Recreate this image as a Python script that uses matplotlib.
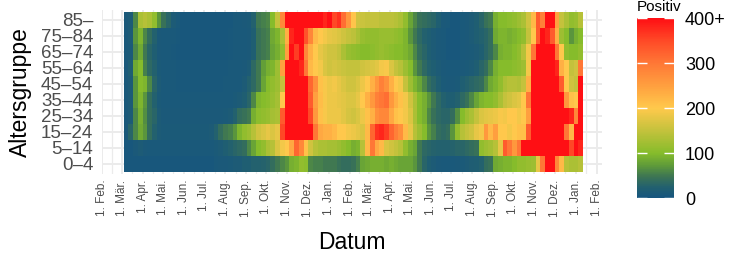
import numpy as np
import pandas as pd
import matplotlib
matplotlib.use("Agg")
import matplotlib.pyplot as plt
import matplotlib.dates as mdates
from matplotlib.colors import LinearSegmentedColormap

plt.rcParams['font.family'] = ['Liberation Sans', 'DejaVu Sans']

# ---------------- data ----------------
age_groups = ['0–4', '5–14', '15–24', '25–34', '35–44', '45–54',
              '55–64', '65–74', '75–84', '85–']
first_week = '2020-03-04'
n_weeks = 97
month_names = ['Jan.', 'Feb.', 'Mär.', 'Apr.', 'Mai.', 'Jun.', 'Jul.',
               'Aug.', 'Sep.', 'Okt.', 'Nov.', 'Dez.']

pos_0_4 = [5, 5, 5, 5, 5, 5, 5, 5, 5, 5,
           5, 5, 5, 5, 5, 5, 5, 5, 5, 8,
           10, 10, 12, 15, 15, 20, 20, 25, 25, 28,
           30, 40, 50, 60, 70, 90, 95, 110, 105, 60,
           55, 55, 50, 50, 50, 45, 40, 40, 45, 55,
           80, 85, 90, 90, 90, 85, 90, 85, 80, 80,
           80, 70, 50, 30, 20, 15, 10, 8, 8, 8,
           10, 12, 15, 18, 20, 25, 40, 45, 85, 90,
           95, 95, 100, 110, 110, 115, 120, 180, 300, 430,
           430, 280, 220, 140, 130, 130, 140]
pos_5_14 = [5, 5, 10, 15, 10, 8, 8, 8, 8, 8,
            8, 8, 8, 8, 8, 8, 8, 8, 8, 12,
            15, 20, 25, 30, 35, 40, 60, 80, 100, 110,
            130, 140, 170, 190, 200, 240, 320, 280, 210, 160,
            140, 130, 130, 125, 125, 120, 110, 100, 90, 95,
            140, 220, 300, 240, 220, 170, 160, 150, 140, 110,
            90, 80, 50, 35, 30, 28, 25, 25, 25, 28,
            30, 30, 35, 40, 45, 110, 120, 125, 140, 180,
            330, 300, 260, 300, 420, 460, 460, 460, 460, 460,
            460, 450, 440, 430, 350, 400, 380]
pos_15_24 = [10, 30, 60, 85, 70, 40, 25, 15, 12, 12,
             12, 12, 12, 12, 12, 12, 12, 12, 15, 25,
             40, 50, 55, 70, 95, 110, 120, 140, 160, 170,
             180, 170, 180, 350, 450, 460, 460, 460, 440, 400,
             300, 240, 230, 230, 220, 200, 200, 190, 185, 178,
             170, 220, 320, 370, 380, 360, 320, 290, 270, 220,
             180, 140, 120, 100, 70, 55, 40, 35, 40, 70,
             110, 140, 150, 160, 180, 190, 260, 220, 250, 200,
             200, 190, 200, 210, 210, 330, 460, 470, 470, 470,
             460, 450, 440, 300, 220, 420, 450]
pos_25_34 = [8, 15, 60, 90, 65, 40, 30, 15, 10, 10,
             10, 10, 10, 10, 10, 10, 10, 10, 10, 10,
             10, 12, 15, 25, 40, 45, 50, 90, 105, 110,
             115, 125, 130, 330, 430, 450, 450, 450, 420, 350,
             260, 210, 195, 185, 185, 185, 175, 165, 160, 170,
             185, 210, 230, 270, 280, 280, 240, 210, 200, 190,
             170, 130, 100, 90, 60, 45, 35, 30, 30, 40,
             65, 100, 120, 130, 150, 170, 175, 180, 185, 195,
             190, 200, 200, 190, 200, 250, 450, 460, 470, 470,
             470, 460, 450, 430, 380, 280, 440]
pos_35_44 = [8, 15, 70, 95, 70, 40, 25, 12, 8, 8,
             8, 8, 8, 8, 8, 8, 8, 8, 8, 8,
             8, 8, 8, 12, 15, 20, 30, 60, 95, 100,
             105, 115, 125, 200, 420, 450, 450, 440, 420, 330,
             250, 215, 195, 185, 185, 180, 175, 170, 170, 180,
             200, 230, 260, 290, 300, 310, 260, 230, 210, 190,
             160, 130, 100, 90, 70, 50, 35, 25, 20, 20,
             25, 35, 45, 60, 80, 95, 100, 100, 110, 130,
             150, 160, 170, 175, 200, 300, 430, 450, 460, 460,
             460, 450, 420, 260, 210, 200, 430]
pos_45_54 = [8, 15, 70, 100, 95, 60, 30, 15, 8, 8,
             8, 7, 7, 7, 7, 7, 7, 7, 7, 7,
             7, 8, 8, 8, 9, 15, 25, 35, 50, 80,
             100, 110, 120, 150, 400, 450, 450, 420, 410, 320,
             270, 210, 195, 185, 190, 180, 170, 160, 160, 170,
             185, 200, 230, 260, 290, 270, 230, 200, 190, 150,
             120, 95, 80, 60, 40, 30, 20, 12, 10, 10,
             12, 20, 25, 30, 35, 40, 60, 85, 95, 110,
             130, 140, 140, 135, 150, 230, 420, 450, 450, 460,
             450, 420, 330, 200, 160, 150, 420]
pos_55_64 = [8, 20, 85, 100, 55, 35, 25, 12, 8, 8,
             8, 7, 7, 7, 7, 7, 7, 7, 7, 7,
             7, 7, 8, 8, 9, 10, 15, 35, 50, 75,
             90, 95, 120, 250, 420, 450, 420, 380, 300, 220,
             200, 190, 170, 160, 165, 160, 155, 150, 150, 150,
             160, 165, 170, 175, 190, 195, 170, 150, 140, 120,
             100, 70, 50, 35, 25, 20, 15, 10, 8, 8,
             8, 10, 12, 15, 20, 30, 40, 60, 90, 100,
             100, 100, 105, 110, 120, 190, 420, 450, 450, 450,
             420, 380, 230, 200, 150, 160, 300]
pos_65_74 = [8, 12, 60, 85, 50, 30, 20, 10, 8, 8,
             7, 6, 6, 6, 6, 6, 6, 6, 6, 6,
             6, 6, 7, 8, 8, 9, 10, 20, 45, 50,
             55, 80, 90, 110, 250, 400, 360, 410, 280, 230,
             200, 180, 170, 160, 160, 150, 130, 115, 110, 105,
             100, 100, 105, 110, 115, 110, 105, 100, 100, 95,
             85, 60, 40, 30, 20, 15, 10, 8, 5, 5,
             5, 8, 10, 12, 15, 20, 30, 40, 60, 90,
             95, 95, 100, 110, 140, 190, 300, 420, 450, 430,
             420, 300, 200, 110, 100, 100, 110]
pos_75_84 = [8, 15, 70, 95, 60, 40, 25, 10, 8, 8,
             8, 7, 6, 6, 6, 6, 6, 6, 6, 6,
             6, 6, 7, 8, 8, 9, 10, 20, 45, 50,
             55, 85, 95, 130, 230, 380, 420, 400, 340, 280,
             220, 200, 190, 180, 175, 170, 160, 150, 145, 130,
             115, 110, 110, 110, 115, 115, 115, 110, 105, 95,
             70, 50, 35, 25, 20, 15, 10, 8, 5, 5,
             5, 8, 10, 15, 20, 25, 30, 40, 85, 95,
             95, 90, 95, 100, 110, 150, 200, 330, 420, 380,
             330, 230, 120, 100, 70, 90, 100]
pos_85 = [10, 15, 60, 130, 140, 130, 110, 70, 45, 30,
          15, 8, 6, 5, 5, 5, 5, 5, 5, 5,
          5, 5, 6, 8, 8, 10, 12, 25, 50, 55,
          60, 100, 150, 280, 450, 450, 450, 450, 450, 450,
          450, 450, 380, 400, 350, 370, 310, 260, 205, 160,
          155, 150, 150, 150, 145, 145, 145, 140, 130, 110,
          80, 60, 45, 40, 35, 30, 20, 10, 8, 5,
          5, 8, 10, 15, 20, 30, 45, 50, 90, 100,
          100, 105, 110, 120, 130, 160, 220, 330, 290, 420,
          420, 250, 150, 130, 110, 115, 140]

rows = [pos_0_4, pos_5_14, pos_15_24, pos_25_34, pos_35_44,
        pos_45_54, pos_55_64, pos_65_74, pos_75_84, pos_85]

legend_ticks = [0, 100, 200, 300, 400]
legend_labels = ['0', '100', '200', '300', '400+']

# ---------------- figure ----------------
W, H = 750, 269
fig = plt.figure(figsize=(W / 100, H / 100), dpi=100)
ax_w = 602 - 101.7
ax_h = 164
ax = fig.add_axes([101.7 / W, 1 - 174 / H, ax_w / W, ax_h / H])

cmap = LinearSegmentedColormap.from_list('pos', [
    (0.00, '#16557f'), (0.06, '#22606f'), (0.12, '#3d7553'),
    (0.18, '#5e9a3a'), (0.25, '#86bc2b'), (0.375, '#c3c23c'),
    (0.50, '#ffc94c'), (0.625, '#ffa03f'), (0.75, '#ff7836'),
    (0.875, '#ff4a27'), (1.00, '#ff0f14')])

weeks = pd.date_range(first_week, periods=n_weeks + 1, freq='7D')
x_edges = mdates.date2num(weeks.to_pydatetime())
y_edges = np.arange(len(age_groups) + 1) - 0.5
data = np.clip(np.array(rows, dtype=float), 0, 400)
mesh = ax.pcolormesh(x_edges, y_edges, data, cmap=cmap, vmin=0, vmax=400,
                     shading='flat', edgecolors='none', linewidth=0, zorder=2)

# axes
month_ticks = pd.date_range('2020-02-01', '2022-02-01', freq='MS')
mt = mdates.date2num(month_ticks.to_pydatetime())
ax.set_xticks(mt)
ax.set_xticklabels(['1. ' + month_names[d.month - 1] for d in month_ticks],
                   rotation=90, fontsize=8.5, color='#4d4d4d')
ax.set_xticks((mt[:-1] + mt[1:]) / 2, minor=True)
ax.set_xlim(mdates.date2num(pd.Timestamp('2020-02-01').to_pydatetime()) - 0.3,
            mdates.date2num(pd.Timestamp('2022-02-09').to_pydatetime()))
ax.set_yticks(np.arange(len(age_groups)))
ax.set_yticklabels(age_groups, fontsize=13.5, color='#4d4d4d')
ax.set_ylim(-0.625, len(age_groups) - 1 + 0.625)
ax.tick_params(which='both', length=0)
ax.tick_params(axis='x', pad=4)
ax.tick_params(axis='y', pad=6)
ax.grid(which='major', color='#ebebeb', linewidth=1.4, zorder=0)
ax.grid(which='minor', axis='x', color='#ebebeb', linewidth=0.9, zorder=0)
ax.set_axisbelow(True)
for s in ax.spines.values():
    s.set_visible(False)
ax.set_xlabel('Datum', fontsize=16.5)
ax.set_ylabel('Altersgruppe', fontsize=16.5)
ax.xaxis.set_label_coords((352 - 101.7) / ax_w, (174 - 231) / ax_h)
ax.yaxis.set_label_coords((32 - 101.7) / ax_w, 0.5)

# colour bar legend
cax = fig.add_axes([636.7 / W, 1 - 198.3 / H, 37.3 / W, 180 / H])
cb = fig.colorbar(mesh, cax=cax, ticks=legend_ticks)
cb.outline.set_visible(False)
cb.ax.set_yticklabels(legend_labels, fontsize=13)
cb.ax.tick_params(direction='in', color='white', length=7, width=1,
                  left=True, right=True, pad=8)
fig.text(637 / W, 1 - 11 / H, 'Positiv', fontsize=11, va='baseline', ha='left')

fig.savefig('out.png', dpi=100)
